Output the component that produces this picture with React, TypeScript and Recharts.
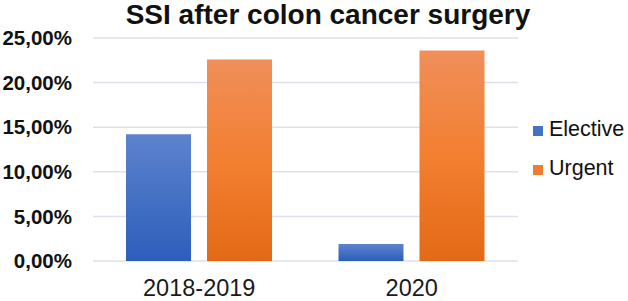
import { Bar, BarChart, CartesianGrid, XAxis, YAxis } from "recharts"

const periods = ["2018-2019", "2020"]
const elective = [14.2, 1.9]
const urgent = [22.6, 23.6]
const yTicks = [0, 5, 10, 15, 20, 25]

const data = periods.map((period, i) => ({
  period,
  Elective: elective[i],
  Urgent: urgent[i],
}))

const FONT = "'Liberation Sans', Arial, sans-serif"

const fmt = (v: number) => `${v.toFixed(2).replace(".", ",")}%`

const legendItems = [
  { name: "Elective", color: "#4472c4" },
  { name: "Urgent", color: "#ed7d31" },
]

function LegendBox() {
  return (
    <div
      style={{
        position: "absolute",
        left: 533,
        top: 110,
        fontFamily: FONT,
        fontSize: 21.5,
        color: "#111",
      }}
    >
      {legendItems.map((it) => (
        <div key={it.name} style={{ display: "flex", alignItems: "center", height: 39 }}>
          <span style={{ width: 10, height: 10, background: it.color, marginRight: 6, marginTop: 3 }} />
          <span>{it.name}</span>
        </div>
      ))}
    </div>
  )
}

export default function App() {
  return (
    <div style={{ position: "absolute", left: 0, top: 0, width: 628, height: 301, background: "#fff" }}>
      <svg width={628} height={36} style={{ position: "absolute", left: 0, top: 0 }}>
        <text x={328} y={24} textAnchor="middle" fontFamily={FONT} fontWeight="bold" fontSize={28} fill="#111">
          SSI after colon cancer surgery
        </text>
      </svg>
      <BarChart
        width={628}
        height={301}
        data={data}
        margin={{ top: 38, right: 110, bottom: 0, left: 0 }}
        barCategoryGap={33}
        barGap={16}
      >
        <defs>
          <linearGradient id="gBlue" x1="0" y1="0" x2="0" y2="1">
            <stop offset="0%" stopColor="#5d83cc" />
            <stop offset="100%" stopColor="#2d5ebc" />
          </linearGradient>
          <linearGradient id="gOrange" x1="0" y1="0" x2="0" y2="1">
            <stop offset="0%" stopColor="#ef8f5a" />
            <stop offset="50%" stopColor="#f37f31" />
            <stop offset="100%" stopColor="#e36916" />
          </linearGradient>
        </defs>
        <CartesianGrid vertical={false} stroke="#dde2ea" strokeWidth={1.5} />
        <XAxis
          dataKey="period"
          height={40}
          tickLine={false}
          axisLine={false}
          tickMargin={12}
          tick={{ fontFamily: FONT, fontSize: 23.5, fill: "#1a1a1a" }}
        />
        <YAxis
          width={93}
          domain={[0, 25]}
          ticks={yTicks}
          tickFormatter={fmt}
          tickLine={false}
          axisLine={false}
          tickMargin={15}
          tick={{ fontFamily: FONT, fontSize: 20.5, fontWeight: "bold", fill: "#111" }}
        />
        <Bar dataKey="Elective" fill="url(#gBlue)" isAnimationActive={false} />
        <Bar dataKey="Urgent" fill="url(#gOrange)" isAnimationActive={false} />
      </BarChart>
      <LegendBox />
    </div>
  )
}
